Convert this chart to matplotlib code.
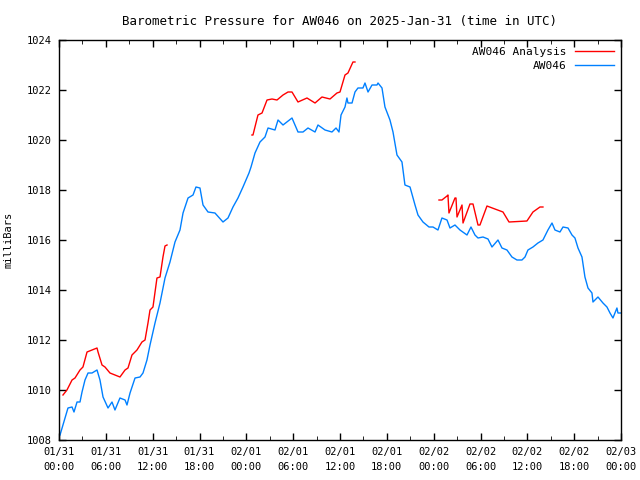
import numpy as np
import matplotlib.pyplot as plt

# hours since 2025-01-31 00:00 UTC
obs_hours = [0.13, 0.77, 1.15, 1.67, 1.92, 2.31, 2.69, 2.95, 3.33, 3.72, 4.23, 4.87,
             5.25, 5.64, 6.28, 6.79, 7.17, 7.81, 8.46, 8.71, 9.10, 9.74, 10.38, 10.76,
             11.27, 11.66, 12.30, 12.94, 13.58, 14.22, 14.86, 15.50, 15.89, 16.53, 17.17,
             17.55, 18.06, 18.45, 19.09, 19.98, 21.01, 21.65, 22.29, 22.93, 23.57, 24.34,
             24.60, 25.11, 25.75, 26.39, 26.78, 27.67, 28.06, 28.70, 29.85, 30.62, 31.26,
             31.90, 32.80, 33.18, 34.08, 34.97, 35.49, 35.87, 36.13, 36.64, 36.89, 37.02,
             37.54, 37.92, 38.30, 38.94, 39.20, 39.59, 40.10, 40.74, 40.87, 41.38, 41.76,
             42.40, 42.79, 43.30, 43.94, 44.32, 44.97, 45.61, 45.99, 46.63, 47.40, 47.91,
             48.55, 49.06, 49.71, 50.09, 50.73, 51.37, 52.27, 52.78, 53.29, 53.68, 54.32,
             54.96, 55.47, 56.24, 56.75, 57.39, 58.03, 58.67, 59.31, 59.70, 60.08, 60.72,
             61.36, 62.00, 62.64, 63.16, 63.54, 64.18, 64.57, 65.21, 65.72, 66.10, 66.49,
             67.00, 67.38, 67.77, 68.28, 68.41, 69.05, 69.69, 70.20, 70.59, 70.97, 71.48,
             71.61, 72.00]
obs_press = [1008.20, 1008.88, 1009.28, 1009.32, 1009.12, 1009.52, 1009.52, 1009.92,
             1010.40, 1010.68, 1010.68, 1010.80, 1010.40, 1009.72, 1009.28, 1009.52,
             1009.20, 1009.68, 1009.60, 1009.40, 1009.88, 1010.48, 1010.52, 1010.68,
             1011.20, 1011.80, 1012.68, 1013.48, 1014.48, 1015.12, 1015.92, 1016.40,
             1017.08, 1017.68, 1017.80, 1018.12, 1018.08, 1017.40, 1017.12, 1017.08,
             1016.72, 1016.88, 1017.32, 1017.68, 1018.12, 1018.68, 1018.92, 1019.48,
             1019.92, 1020.12, 1020.48, 1020.40, 1020.80, 1020.60, 1020.88, 1020.32,
             1020.32, 1020.48, 1020.32, 1020.60, 1020.40, 1020.32, 1020.48, 1020.32,
             1021.00, 1021.32, 1021.68, 1021.48, 1021.48, 1021.92, 1022.08, 1022.08,
             1022.28, 1021.92, 1022.20, 1022.20, 1022.28, 1022.08, 1021.32, 1020.80,
             1020.32, 1019.40, 1019.12, 1018.20, 1018.12, 1017.40, 1017.00, 1016.72,
             1016.52, 1016.52, 1016.40, 1016.88, 1016.80, 1016.48, 1016.60, 1016.40,
             1016.20, 1016.52, 1016.20, 1016.08, 1016.12, 1016.04, 1015.72, 1016.00,
             1015.68, 1015.60, 1015.32, 1015.20, 1015.20, 1015.32, 1015.60, 1015.72,
             1015.88, 1016.00, 1016.40, 1016.68, 1016.40, 1016.32, 1016.52, 1016.48,
             1016.20, 1016.08, 1015.68, 1015.32, 1014.52, 1014.08, 1013.88, 1013.52,
             1013.72, 1013.48, 1013.32, 1013.08, 1012.88, 1013.28, 1013.08, 1013.08]

# analysis comes in three pieces, nan = gap
ana_hours = [0.51, 1.02, 1.67, 2.05, 2.69, 3.07, 3.59, 4.23, 4.87, 5.00, 5.51, 5.89,
             6.53, 7.17, 7.81, 8.46, 8.84, 9.35, 9.99, 10.63, 11.02, 11.40, 11.66, 12.04,
             12.55, 12.94, 13.32, 13.58, 13.84, np.nan,
             24.72, 24.85, 25.49, 26.01, 26.65, 27.29, 27.93, 28.70, 29.34, 29.85, 30.62,
             31.77, 32.80, 33.69, 34.72, 35.61, 36.00, 36.64, 37.02, 37.66, 37.92, np.nan,
             48.68, 49.06, 49.71, 49.83, 49.96, 50.73, 50.86, 50.99, 51.63, 51.76, 52.65,
             53.04, 53.68, 53.93, 54.83, 55.85, 56.88, 57.65, 59.95, 60.72, 61.62, 62.00]
ana_press = [1009.80, 1010.00, 1010.40, 1010.48, 1010.80, 1010.92, 1011.52, 1011.60,
             1011.68, 1011.52, 1011.00, 1010.92, 1010.68, 1010.60, 1010.52, 1010.80,
             1010.88, 1011.40, 1011.60, 1011.92, 1012.00, 1012.68, 1013.20, 1013.32,
             1014.48, 1014.52, 1015.32, 1015.76, 1015.80, np.nan,
             1020.20, 1020.20, 1021.00, 1021.08, 1021.60, 1021.64, 1021.60, 1021.80,
             1021.92, 1021.92, 1021.52, 1021.68, 1021.48, 1021.72, 1021.64, 1021.88,
             1021.92, 1022.60, 1022.68, 1023.12, 1023.12, np.nan,
             1017.60, 1017.60, 1017.76, 1017.80, 1017.08, 1017.68, 1017.68, 1016.92,
             1017.40, 1016.68, 1017.44, 1017.44, 1016.60, 1016.60, 1017.36, 1017.24,
             1017.12, 1016.72, 1016.76, 1017.12, 1017.32, 1017.32]

tick_hours = list(range(0, 73, 6))
tick_labels = ['01/31\n00:00', '01/31\n06:00', '01/31\n12:00', '01/31\n18:00',
               '02/01\n00:00', '02/01\n06:00', '02/01\n12:00', '02/01\n18:00',
               '02/02\n00:00', '02/02\n06:00', '02/02\n12:00', '02/02\n18:00',
               '02/03\n00:00']

plt.rcParams['font.family'] = 'DejaVu Sans Mono'
plt.rcParams['font.size'] = 7.5

fig = plt.figure(figsize=(6.4, 4.8), dpi=100)
ax = fig.add_axes([59/640, 40/480, 562/640, 400/480])

ax.plot(ana_hours, ana_press, color='#ff0000', lw=1, label='AW046 Analysis')
ax.plot(obs_hours, obs_press, color='#0080ff', lw=1, label='AW046')

ax.set_xlim(0, 72)
ax.set_ylim(1008, 1024)
ax.set_xticks(tick_hours)
ax.set_xticklabels(tick_labels, linespacing=1.6)
ax.set_xticks(range(3, 72, 6), minor=True)
ax.set_yticks(range(1008, 1025, 2))
ax.tick_params(direction='in', top=True, right=True, length=5, width=1, pad=5)
ax.tick_params(which='minor', direction='in', top=True, length=3)
for s in ax.spines.values():
    s.set_linewidth(1)

ax.set_ylabel('milliBars', labelpad=10)
ax.set_title('Barometric Pressure for AW046 on 2025-Jan-31 (time in UTC)', pad=11)
ax.legend(loc='upper right', frameon=False, markerfirst=False, handlelength=3.5,
          borderaxespad=0.2, labelspacing=0.35, handletextpad=0.8, fontsize=8)

plt.savefig('out.png', dpi=100)
